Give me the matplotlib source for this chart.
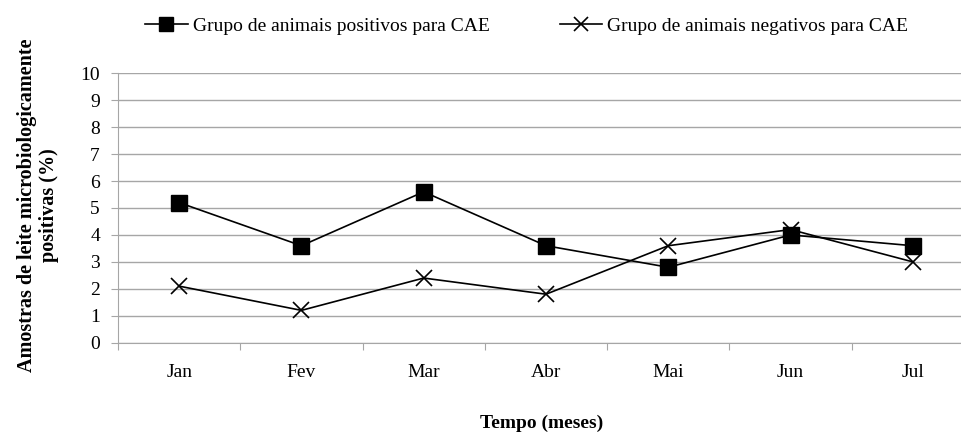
import matplotlib
matplotlib.use("Agg")
import matplotlib.pyplot as plt
from matplotlib.ticker import FixedLocator

months = ["Jan", "Fev", "Mar", "Abr", "Mai", "Jun", "Jul"]
positivos = [5.2, 3.6, 5.6, 3.6, 2.8, 4.0, 3.6]
negativos = [2.1, 1.2, 2.4, 1.8, 3.6, 4.2, 3.0]
y_ticks = list(range(0, 11))

plt.rcParams["font.family"] = ["Liberation Serif", "DejaVu Serif"]
FS = 14

W, H = 962, 434
fig = plt.figure(figsize=(W / 100, H / 100), dpi=100)
# axes spans px 118..974 horizontally (runs past the right edge), 73..343 vertically
ax = fig.add_axes([118 / W, 1 - 342.7 / H, (974 - 118) / W, (342.7 - 73.3) / H])

x = list(range(len(months)))
ax.plot(x, positivos, color="black", lw=1.2, marker="s", markersize=11,
        label="Grupo de animais positivos para CAE")
ax.plot(x, negativos, color="black", lw=1.2, marker="x", markersize=11,
        markeredgewidth=1.2, label="Grupo de animais negativos para CAE")

ax.set_xlim(-0.5, len(months) - 0.5)
ax.set_ylim(0, 10)
ax.set_yticks(y_ticks)
ax.yaxis.grid(True, color="#a6a6a6", lw=1)
ax.set_axisbelow(True)

ax.xaxis.set_major_locator(FixedLocator([i - 0.5 for i in range(len(months) + 1)]))
ax.xaxis.set_major_formatter(plt.NullFormatter())
ax.xaxis.set_minor_locator(FixedLocator(x))
ax.set_xticklabels(months, minor=True)
ax.tick_params(axis="x", which="major", length=5, color="#a6a6a6")
ax.tick_params(axis="x", which="minor", length=0, pad=15, labelsize=FS)
ax.tick_params(axis="y", length=5, color="#a6a6a6", labelsize=FS, pad=8)

for s in ["top", "right"]:
    ax.spines[s].set_visible(False)
for s in ["left", "bottom"]:
    ax.spines[s].set_color("#a6a6a6")

fig.text(38 / W, 1 - 205 / H, "Amostras de leite microbiologicamente\npositivas (%)",
         rotation=90, ha="center", va="center", fontsize=14.5, fontweight="bold",
         multialignment="center", linespacing=1.1)
fig.text(542 / W, 1 - 423 / H, "Tempo (meses)", ha="center", va="center",
         fontsize=FS, fontweight="bold")

fig.legend(loc="center left", bbox_to_anchor=(145 / W, 1 - 26 / H), ncol=2, frameon=False,
           fontsize=FS, handlelength=2.2, handletextpad=0.25, columnspacing=3.6,
           markerscale=0.9, borderpad=0, borderaxespad=0)

fig.savefig("out.png", dpi=100)
